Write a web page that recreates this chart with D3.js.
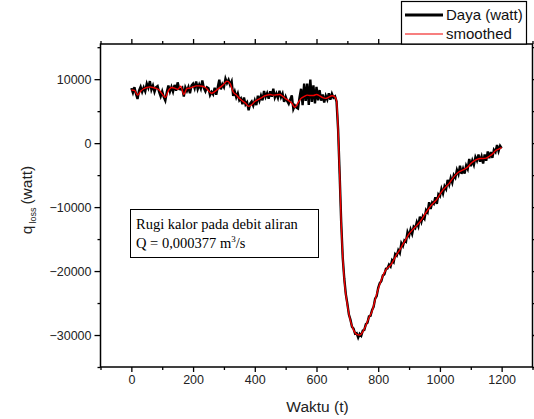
<!DOCTYPE html>
<html>
<head>
<meta charset="utf-8">
<script src="https://cdn.jsdelivr.net/npm/d3@7"></script>
<style>
  body { margin: 0; background: #fff; }
  svg { display: block; font-family: "Liberation Sans", Arial, sans-serif; }
</style>
</head>
<body>
<svg id="chart" width="534" height="419"></svg>
<script>
// raw measurement, one sample every 5 s starting at t = 0
const rawStep = 5;
const rawValues = [
  // 0 .. 660
  8600, 7880, 8750, 7700, 6900, 8200, 8800, 8000, 8700, 8100,
  9300, 8650, 9700, 8350, 9000, 8020, 8750, 8920, 8000, 7300,
  8100, 7200, 6650, 8000, 9000, 8050, 8800, 8050, 9100, 8200,
  9500, 8450, 8400, 8650, 7300, 8700, 8150, 8780, 7800, 9000,
  9300, 8580, 9650, 8450, 9150, 8520, 9800, 8600, 8100, 8750,
  8600, 7500, 8000, 7620, 8650, 7550, 8750, 9920, 8400, 9220,
  8750, 10080, 9400, 9900, 9100, 9650, 7400, 8080, 7150, 7780,
  6700, 7000, 6100, 7120, 6050, 6400, 5150, 6180, 6500, 5850,
  6700, 5950, 7400, 6620, 7450, 6700, 8150, 7220, 7800, 6950,
  8100, 7250, 8500, 7120, 7750, 7080, 8200, 7180, 7750, 6450,
  7250, 6600, 6150, 6850, 7450, 5320, 5900, 5550, 5400, 7150,
  8500, 5950, 9300, 6600, 9300, 5980, 9950, 6450, 9050, 6220,
  8800, 6700, 8300, 6650, 7600, 6350, 7400, 6800, 7800, 6800,
  7700, 7100, 7300,
  // 665 .. 800
  6500, 2200, -4800, -12300, -17900, -21200, -23600, -25100, -26800, -27600,
  -28700, -29000, -29800, -29700, -30400, -29800, -30100, -29300, -29200, -28300,
  -28100, -27100, -27000, -26100, -25600, -24300, -23900, -22600,
  // 805 .. 1200
  -21900, -21600, -20700, -20500, -19650, -19600, -19000, -19300, -18300, -18600,
  -17350, -17600, -16750, -17200, -15650, -16100, -15200, -15400, -13900, -14500,
  -13500, -14200, -13050, -13300, -12350, -13000, -11500, -12300, -11400, -11800,
  -10450, -10800, -9250, -10300, -9250, -9500, -8450, -9500, -8000, -8300,
  -7150, -7900, -6750, -7200, -5750, -6500, -5450, -6200, -5000, -5400,
  -4180, -4850, -3520, -4800, -3980, -4750, -3500, -4050, -2480, -3600,
  -2700, -3400, -2180, -2750, -1780, -2900, -2100, -3200, -1780, -2750,
  -1300, -2350, -1380, -2300, -1050, -1400, -280, -1250, -420, -800
];

// smoothed curve
const smoothTime = [
  0, 10, 20, 30, 40, 50, 60, 70, 80, 90, 100, 110, 120, 130, 140, 150, 160, 170, 180, 190,
  200, 210, 220, 230, 240, 250, 260, 270, 280, 290, 300, 310, 320, 330, 340, 350, 360, 370, 380, 390,
  400, 410, 420, 430, 440, 450, 460, 470, 480, 490, 500, 510, 520, 530, 540, 550, 560, 570, 580, 590,
  600, 610, 620, 630, 640, 650, 660, 665, 670, 675, 680, 685, 690, 700, 710, 720, 730, 740, 750, 760,
  770, 780, 790, 800, 810, 820, 830, 840, 850, 860, 870, 880, 890, 900, 910, 920, 930, 940, 950, 960,
  970, 980, 990, 1000, 1010, 1020, 1030, 1040, 1050, 1060, 1070, 1080, 1090, 1100, 1110, 1120, 1130, 1140, 1150, 1160,
  1170, 1180, 1190, 1200
];
const smoothValues = [
  8300, 8250, 7500, 8100, 8500, 8700, 8800, 8700, 8550, 8300, 7700, 7150, 8200, 8700, 8600, 8400, 8900, 7600, 8550, 8600,
  8800, 8950, 8950, 8900, 8700, 8200, 7800, 8050, 8450, 8800, 9250, 9700, 9300, 8000, 7550, 7000, 6600, 6250, 5750, 6000,
  6500, 6800, 7050, 7350, 7500, 7600, 7500, 7550, 7600, 7350, 6950, 6650, 6250, 5600, 6300, 7000, 7300, 7500, 7450, 7450,
  7600, 7400, 7100, 7000, 7200, 7400, 7200, 6600, 2000, -4700, -12500, -17700, -21400, -25300, -27800, -29200, -29900, -30000, -29500, -28500,
  -27300, -26300, -24500, -22800, -21400, -20200, -19500, -19100, -18300, -17400, -16700, -15800, -15000, -14200, -13600, -13100, -12600, -12000, -11200, -10500,
  -9800, -9300, -8800, -8000, -7300, -6800, -6300, -5600, -5000, -4550, -4300, -4050, -3750, -3200, -2800, -2550, -2400, -2400, -2350, -2050,
  -1700, -1200, -950, -700
];

const xDomain = [-100, 1300];
const yDomain = [-35000, 15500];
const xMajorTicks = [0, 200, 400, 600, 800, 1000, 1200];
const xMinorTicks = [-100, 100, 300, 500, 700, 900, 1100, 1300];
const yMajorTicks = [-30000, -20000, -10000, 0, 10000];
const yMinorTicks = [-35000, -25000, -15000, -5000, 5000, 15000];
const legendLabels = ["Daya (watt)", "smoothed"];
const noteLines = ["Rugi kalor pada debit aliran", "Q = 0,000377 m"];

const svg = d3.select("#chart");
const plotLeft = 100.5, plotRight = 532.5, plotTop = 44, plotBottom = 367;

const x = d3.scaleLinear().domain(xDomain).range([plotLeft, plotRight]);
const y = d3.scaleLinear().domain(yDomain).range([plotBottom, plotTop]);

const raw = rawValues.map((v, i) => ({ t: i * rawStep, v }));
const smooth = smoothTime.map((t, i) => ({ t, v: smoothValues[i] }));

const line = d3.line().x(d => x(d.t)).y(d => y(d.v));

// data lines
svg.append("path")
  .datum(raw)
  .attr("fill", "none")
  .attr("stroke", "#000")
  .attr("stroke-width", 2.4)
  .attr("d", line);

svg.append("path")
  .datum(smooth)
  .attr("fill", "none")
  .attr("stroke", "#f00000")
  .attr("stroke-width", 1.4)
  .attr("d", line.curve(d3.curveMonotoneX));

// axes: majors + minors, ticks pointing out
const fmt = d3.format("d");

const gBottom = svg.append("g").attr("transform", `translate(0,${plotBottom})`);
gBottom.call(d3.axisBottom(x).tickValues(xMajorTicks).tickSize(5).tickPadding(3).tickFormat(fmt));
gBottom.append("g").call(d3.axisBottom(x).tickValues(xMinorTicks).tickSize(3).tickFormat(""));

const gTop = svg.append("g").attr("transform", `translate(0,${plotTop})`);
gTop.call(d3.axisTop(x).tickValues(xMajorTicks).tickSize(5).tickFormat(""));
gTop.append("g").call(d3.axisTop(x).tickValues(xMinorTicks).tickSize(3).tickFormat(""));

const gLeft = svg.append("g").attr("transform", `translate(${plotLeft},0)`);
gLeft.call(d3.axisLeft(y).tickValues(yMajorTicks).tickSize(6).tickPadding(3).tickFormat(fmt));
gLeft.append("g").call(d3.axisLeft(y).tickValues(yMinorTicks).tickSize(3).tickFormat(""));

const gRight = svg.append("g").attr("transform", `translate(${plotRight},0)`);
gRight.call(d3.axisRight(y).tickValues(yMajorTicks).tickSize(5).tickFormat(""));
gRight.append("g").call(d3.axisRight(y).tickValues(yMinorTicks).tickSize(3).tickFormat(""));

svg.selectAll(".domain").remove();
svg.selectAll(".tick line").attr("stroke", "#000").attr("stroke-width", 1.3);
svg.selectAll(".tick text")
  .attr("font-family", "'Liberation Sans', Arial, sans-serif")
  .attr("font-size", 12.5)
  .attr("fill", "#222");

// frame
svg.append("rect")
  .attr("x", plotLeft).attr("y", plotTop)
  .attr("width", plotRight - plotLeft).attr("height", plotBottom - plotTop)
  .attr("fill", "none").attr("stroke", "#000").attr("stroke-width", 1.5);

// axis titles
svg.append("text")
  .attr("x", (plotLeft + plotRight) / 2 + 1)
  .attr("y", 412)
  .attr("text-anchor", "middle")
  .attr("font-size", 15.5)
  .attr("fill", "#222")
  .text("Waktu (t)");

const yTitle = svg.append("text")
  .attr("transform", "translate(32,200) rotate(-90)")
  .attr("text-anchor", "middle")
  .attr("font-size", 15.5)
  .attr("fill", "#222");
yTitle.append("tspan").text("q");
yTitle.append("tspan").attr("font-size", 9).attr("dy", 4).attr("dx", 2).text("loss");
yTitle.append("tspan").attr("dy", -4).attr("dx", 3).text("(watt)");

// legend
const legend = svg.append("g");
legend.append("rect")
  .attr("x", 401.5).attr("y", 1.5).attr("width", 125).attr("height", plotTop - 1.5)
  .attr("fill", "#fff").attr("stroke", "#000").attr("stroke-width", 1.2);
legendLabels.forEach((lab, i) => {
  const ly = 15 + i * 19;
  legend.append("line")
    .attr("x1", 405).attr("x2", 443).attr("y1", ly).attr("y2", ly)
    .attr("stroke", i === 0 ? "#000" : "#f00000")
    .attr("stroke-width", i === 0 ? 3 : 1.2);
  legend.append("text")
    .attr("x", 446).attr("y", ly + 5)
    .attr("font-size", 15)
    .attr("fill", "#111")
    .text(lab);
});

// annotation box
const note = svg.append("g");
note.append("rect")
  .attr("x", 130.5).attr("y", 209.5).attr("width", 188).attr("height", 48)
  .attr("fill", "#fff").attr("stroke", "#000").attr("stroke-width", 1);
note.append("text")
  .attr("x", 136).attr("y", 229)
  .attr("font-family", "'Liberation Serif', 'Times New Roman', serif")
  .attr("font-size", 14.5)
  .text(noteLines[0]);
const q = note.append("text")
  .attr("x", 136).attr("y", 248)
  .attr("font-family", "'Liberation Serif', 'Times New Roman', serif")
  .attr("font-size", 14.5);
q.append("tspan").text(noteLines[1]);
q.append("tspan").attr("font-size", 9).attr("dy", -6).text("3");
q.append("tspan").attr("dy", 6).text("/s");
</script>
</body>
</html>
